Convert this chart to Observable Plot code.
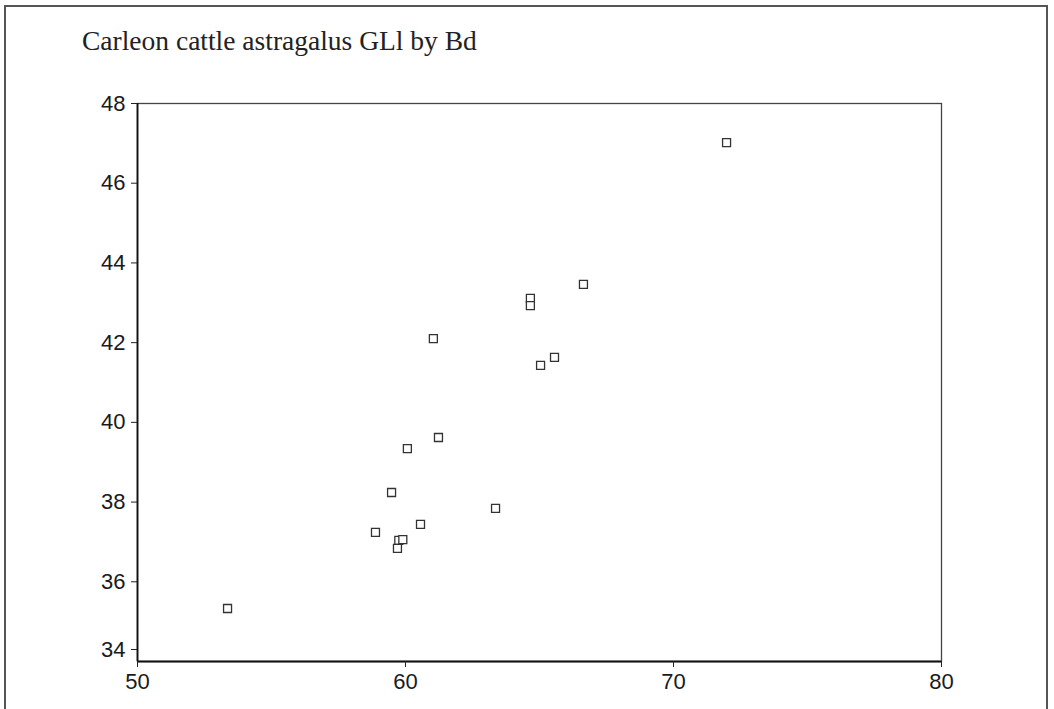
<!DOCTYPE html>
<html>
<head>
<meta charset="utf-8">
<script src="https://cdn.jsdelivr.net/npm/d3@7"></script>
<script src="https://cdn.jsdelivr.net/npm/@observablehq/plot@0.6"></script>
<style>
  html, body { margin: 0; padding: 0; background: #fff; }
  #wrap { position: relative; width: 1054px; height: 709px; overflow: hidden; }
  #border { position: absolute; left: 4px; top: 5px; width: 1044px; height: 720px; border: 2px solid #555; box-sizing: border-box; pointer-events: none; }
  #title { position: absolute; left: 82px; top: 25px; font-family: "Liberation Serif", "DejaVu Serif", serif; font-size: 27.5px; color: #222; white-space: nowrap; }
  #chart { position: absolute; left: 0; top: 0; }
</style>
</head>
<body>
<div id="wrap">
  <div id="chart"></div>
  <div id="border"></div>
  <div id="title">Carleon cattle astragalus GLl by Bd</div>
</div>
<script>
// Bd (x) and GLl (y)
const bd  = [53.36, 58.88, 59.48, 59.75, 59.90, 59.70, 60.56, 63.36, 60.07, 61.23, 61.04, 64.66, 64.66, 65.04, 65.56, 66.64, 71.98];
const gll = [35.33, 37.24, 38.24, 37.04, 37.06, 36.84, 37.44, 37.84, 39.34, 39.62, 42.10, 43.11, 42.93, 41.43, 41.63, 43.46, 47.02];
const xTicks = [50, 60, 70, 80];
const yTicksUpper = [36, 38, 40, 42, 44, 46, 48];
const yTicksLow = [34];

const data = bd.map((b, i) => ({bd: b, gll: gll[i]}));

const font = "Liberation Sans, Arial, sans-serif";
const chart = Plot.plot({
  width: 1054,
  height: 709,
  marginLeft: 137,
  marginRight: 113,
  marginTop: 103,
  marginBottom: 48,
  style: {fontFamily: font, fontSize: "22px", color: "#1a1a1a", background: "transparent"},
  x: {domain: [50, 80]},
  y: {domain: [34, 48]},
  marks: [
    Plot.frame({stroke: "#444", strokeWidth: 1.3}),
    Plot.ruleY([34], {stroke: "#111", strokeWidth: 1.8}),
    Plot.ruleX([50], {stroke: "#111", strokeWidth: 1.8}),
    Plot.axisX({ticks: xTicks, tickSize: 6, tickPadding: 6, label: null, fontSize: 22, stroke: "#222"}),
    Plot.axisY({ticks: yTicksUpper, tickSize: 6, tickPadding: 6, label: null, fontSize: 22, stroke: "#222"}),
    Plot.axisY({ticks: yTicksLow, tickSize: 6, tickPadding: 6, label: null, fontSize: 22, dy: -12, stroke: "#222"}),
    Plot.dot(data, {x: "bd", y: "gll", symbol: "square", r: 4.5, stroke: "#333", strokeWidth: 1.3, fill: "white"})
  ]
});
document.getElementById("chart").appendChild(chart);
</script>
</body>
</html>
